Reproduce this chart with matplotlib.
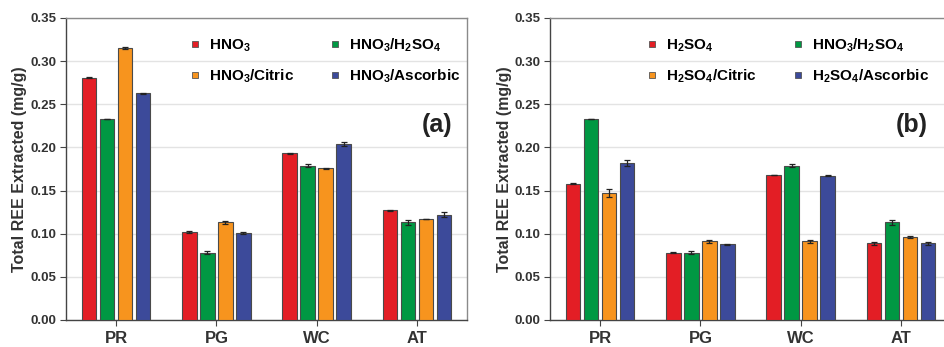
import matplotlib
matplotlib.use("Agg")
import matplotlib.pyplot as plt
from matplotlib.lines import Line2D
import numpy as np

plt.rcParams["font.family"] = ["Liberation Sans", "DejaVu Sans"]
plt.rcParams["font.weight"] = "bold"
plt.rcParams["mathtext.fontset"] = "custom"
plt.rcParams["mathtext.rm"] = "Liberation Sans:bold"
plt.rcParams["mathtext.default"] = "rm"

samples = ["PR", "PG", "WC", "AT"]
colors = ["#E31E25", "#009843", "#F7941E", "#3C4A9A"]

# panel (a): nitric acid based leachants
labels_a = ["HNO$_3$", "HNO$_3$/H$_2$SO$_4$", "HNO$_3$/Citric", "HNO$_3$/Ascorbic"]
vals_a = [
    [0.281, 0.102, 0.193, 0.127],   # HNO3
    [0.233, 0.078, 0.179, 0.113],   # HNO3/H2SO4
    [0.315, 0.113, 0.176, 0.117],   # HNO3/Citric
    [0.263, 0.101, 0.204, 0.122],   # HNO3/Ascorbic
]
errs_a = [
    [0.001, 0.001, 0.001, 0.001],
    [0.0005, 0.002, 0.002, 0.003],
    [0.001, 0.002, 0.0005, 0.0005],
    [0.0005, 0.001, 0.002, 0.003],
]

# panel (b): sulfuric acid based leachants
labels_b = ["H$_2$SO$_4$", "HNO$_3$/H$_2$SO$_4$", "H$_2$SO$_4$/Citric", "H$_2$SO$_4$/Ascorbic"]
vals_b = [
    [0.158, 0.078, 0.168, 0.089],   # H2SO4
    [0.233, 0.078, 0.179, 0.113],   # HNO3/H2SO4
    [0.147, 0.091, 0.091, 0.096],   # H2SO4/Citric
    [0.182, 0.088, 0.167, 0.089],   # H2SO4/Ascorbic
]
errs_b = [
    [0.0005, 0.0005, 0.0005, 0.0015],
    [0.0005, 0.002, 0.002, 0.003],
    [0.005, 0.002, 0.002, 0.001],
    [0.003, 0.0005, 0.0005, 0.0015],
]

W, H = 944, 347
fig = plt.figure(figsize=(W / 100, H / 100), dpi=100)


def panel(left_px, vals, errs, labels, tag, tag_x, leg_x):
    ax = fig.add_axes([left_px / W, 27 / H, 401 / W, 302 / H])
    x = np.arange(len(samples))
    offsets = [-0.27, -0.09, 0.09, 0.27]
    for i in range(4):
        ax.bar(x + offsets[i], vals[i], width=0.145, color=colors[i],
               edgecolor="#4a4a4a", linewidth=0.8, zorder=3,
               yerr=errs[i], capsize=2,
               error_kw=dict(ecolor="#222222", elinewidth=0.9, capthick=0.9, zorder=4))
    ax.set_xlim(-0.5, 3.5)
    ax.set_ylim(0, 0.35)
    ticks = np.arange(0, 0.351, 0.05)
    ax.set_yticks(ticks)
    ax.set_yticklabels([f"{v:.2f}" for v in ticks], fontsize=9.5, color="#333333")
    ax.set_xticks(x)
    ax.set_xticklabels(samples, fontsize=12, color="#333333")
    ax.tick_params(axis="y", colors="#444444", length=4, width=0.8, pad=3)
    ax.tick_params(axis="x", length=4, width=0.8, color="#444444", pad=4)
    for lbl in ax.get_yticklabels() + ax.get_xticklabels():
        lbl.set_color("#333333")
    ax.yaxis.grid(True, color="#e3e3e3", linewidth=1.0, zorder=0)
    ax.set_axisbelow(True)
    for s in ["left", "bottom"]:
        ax.spines[s].set_color("#444444")
        ax.spines[s].set_linewidth(1.0)
    for s in ["top", "right"]:
        ax.spines[s].set_color("#8a8a8a")
        ax.spines[s].set_linewidth(1.0)
    ax.set_ylabel("Total REE Extracted (mg/g)", fontsize=11.5, fontweight="bold",
                  color="#333333", labelpad=2)

    handles = [Line2D([], [], linestyle="none", marker="s", markersize=5,
                      markerfacecolor=c, markeredgecolor="#555555", markeredgewidth=0.6)
               for c in colors]
    order = [0, 2, 1, 3]
    ax.legend([handles[k] for k in order], [labels[k] for k in order],
              ncol=2, frameon=False, loc="upper left",
              bbox_to_anchor=(leg_x, 0.985), handlelength=0.8, handletextpad=0.5,
              columnspacing=2.3, labelspacing=0.88, prop=dict(weight="bold", size=11))
    ax.text(tag_x, 0.646, tag, transform=ax.transAxes, fontsize=18,
            fontweight="bold", color="#222222", ha="center", va="center")
    return ax


panel(66, vals_a, errs_a, labels_a, "(a)", 0.925, 0.2725)
panel(550, vals_b, errs_b, labels_b, "(b)", 0.903, 0.205)

fig.savefig("out.png", dpi=100)
